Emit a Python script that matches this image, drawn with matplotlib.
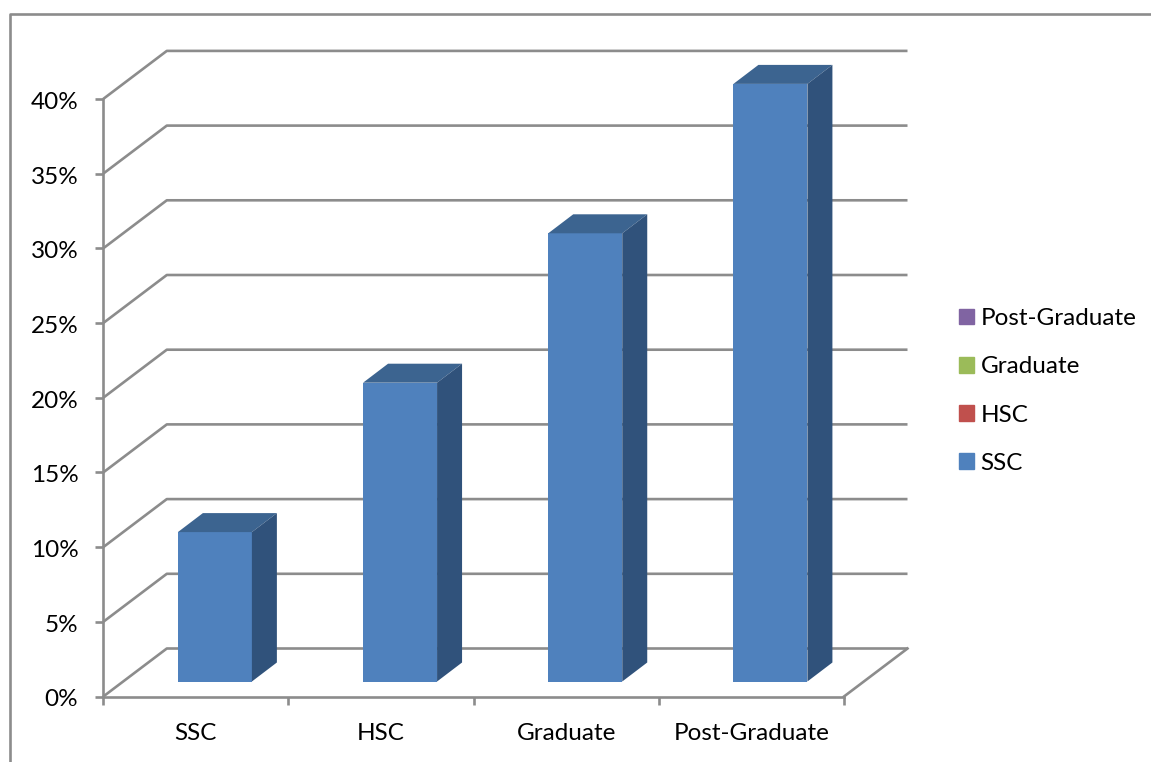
import matplotlib
matplotlib.use('Agg')
from matplotlib import pyplot as plt
from matplotlib.lines import Line2D
from matplotlib.patches import Patch, Polygon
from matplotlib.transforms import ScaledTranslation

plt.rcParams['font.family'] = ['Lato', 'DejaVu Sans']

categories = ['SSC', 'HSC', 'Graduate', 'Post-Graduate']
values = [10, 20, 30, 40]
y_ticks = [0, 5, 10, 15, 20, 25, 30, 35, 40]
legend_labels = ['Post-Graduate', 'Graduate', 'HSC', 'SSC']
legend_colors = ['#8064A2', '#9BBB59', '#C0504D', '#4F81BD']

W, H = 1151, 762
LINE = '#8C8C8C'
FRONT = '#4F81BD'
TOP = '#3C6490'
SIDE = '#30527B'
LW = 1.9

fig = plt.figure(figsize=(W / 100, H / 100), dpi=100)
ax = fig.add_axes([103.3 / W, 1 - 696.5 / H, (844 - 103.3) / W, (696.5 - 98.9) / H])
ax.set_xlim(0, 4)
ax.set_ylim(0, 40)

# pixel sizes of the fake 3d depth turned into data units
px_x = 4 / (844 - 103.3)
px_y = 40 / (696.5 - 98.9)
wall_dx = 63.5 * px_x
wall_dy = 48 * px_y
bar_w = 74 * px_x
bar_dx = 25 * px_x
bar_dy = 19 * px_y
bar_shift_x = 19 * px_x
bar_shift_y = 15 * px_y

# back wall and left wall grid
for v in y_ticks:
    ax.plot([0, wall_dx, 4 + wall_dx], [v, v + wall_dy, v + wall_dy],
            color=LINE, lw=LW, clip_on=False, zorder=1, solid_capstyle='butt')
ax.plot([4, 4 + wall_dx], [0, wall_dy], color=LINE, lw=LW, clip_on=False, zorder=1)

# bars
for i, v in enumerate(values):
    x0 = i + 0.5 + bar_shift_x - bar_w / 2
    x1 = x0 + bar_w
    y0 = bar_shift_y
    y1 = y0 + v
    ax.bar(x0, v, width=bar_w, bottom=y0, align='edge', color=FRONT, zorder=3, clip_on=False)
    ax.add_patch(Polygon([(x0, y1), (x1, y1), (x1 + bar_dx, y1 + bar_dy), (x0 + bar_dx, y1 + bar_dy)],
                         color=TOP, lw=0, zorder=3, clip_on=False))
    ax.add_patch(Polygon([(x1, y0), (x1 + bar_dx, y0 + bar_dy), (x1 + bar_dx, y1 + bar_dy), (x1, y1)],
                         color=SIDE, lw=0, zorder=3, clip_on=False))

for s in ['top', 'right']:
    ax.spines[s].set_visible(False)
for s in ['left', 'bottom']:
    ax.spines[s].set_color(LINE)
    ax.spines[s].set_linewidth(LW)

ax.set_yticks(y_ticks)
ax.set_yticklabels([str(v) + '%' for v in y_ticks])
ax.set_xticks(range(5))
ax.set_xticklabels([])
ax.set_xticks([i + 0.5 for i in range(4)], minor=True)
ax.set_xticklabels(categories, minor=True)
ax.tick_params(axis='y', length=6, width=LW, color=LINE, labelsize=17.5, pad=12)
ax.tick_params(axis='x', which='major', length=6, width=LW, color=LINE)
ax.tick_params(axis='x', which='minor', length=0, labelsize=17.5, pad=19)

# the y labels sit a little under their ticks in the original
down = ScaledTranslation(0, -1.5 / 100, fig.dpi_scale_trans)
for t in ax.get_yticklabels():
    t.set_transform(t.get_transform() + down)

handles = [Patch(color=c, label=l) for c, l in zip(legend_colors, legend_labels)]
fig.legend(handles=handles, loc='center left', bbox_to_anchor=(959 / W, 1 - 391 / H),
           frameon=False, fontsize=17.5, handlelength=0.62, handleheight=0.62,
           handletextpad=0.27, labelspacing=1.12, borderpad=0, borderaxespad=0)

# outer chart border, cut off by the screenshot
fig.add_artist(Line2D([10 / W, 10 / W, 1], [0, 1 - 14 / H, 1 - 14 / H], color=LINE, lw=LW))

fig.savefig('out.png', dpi=100)
